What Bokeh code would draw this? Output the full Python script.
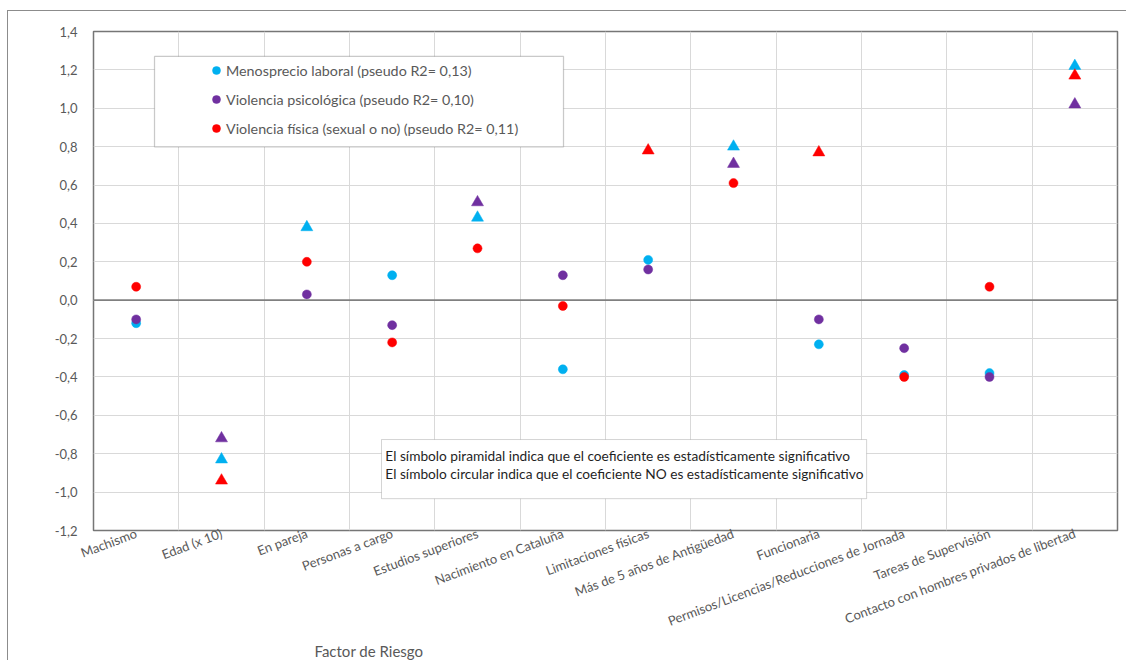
import math
from bokeh.plotting import figure
from bokeh.models import (ColumnDataSource, FactorRange, FixedTicker, CustomJSTickFormatter,
                          Legend, LegendItem, Span, BoxAnnotation, Label, Title)
from bokeh.embed import file_html
from bokeh.resources import INLINE

# ---------------- data ----------------
categories = [
    "Machismo", "Edad (x 10)", "En pareja", "Personas a cargo", "Estudios superiores",
    "Nacimiento en Cataluña", "Limitaciones físicas", "Más de 5 años de Antigüedad",
    "Funcionaria", "Permisos/Licencias/Reducciones de Jornada", "Tareas de Supervisión",
    "Contacto con hombres privados de libertad",
]
y_ticks = [-1.2, -1.0, -0.8, -0.6, -0.4, -0.2, 0.0, 0.2, 0.4, 0.6, 0.8, 1.0, 1.2, 1.4]

series_names = [
    "Menosprecio laboral (pseudo R2= 0,13)",
    "Violencia psicológica (pseudo R2= 0,10)",
    "Violencia física (sexual o no) (pseudo R2= 0,11)",
]
menosprecio = [-0.12, -0.83, 0.38, 0.13, 0.43, -0.36, 0.21, 0.80, -0.23, -0.39, -0.38, 1.22]
psicologica = [-0.10, -0.72, 0.03, -0.13, 0.51, 0.13, 0.16, 0.71, -0.10, -0.25, -0.40, 1.02]
fisica      = [0.07, -0.94, 0.20, -0.22, 0.27, -0.03, 0.78, 0.61, 0.77, -0.40, 0.07, 1.17]

# True = statistically significant (triangle), False = not significant (circle)
sig_menosprecio = [False, True, True, False, True, False, False, True, False, False, False, True]
sig_psicologica = [False, True, False, False, True, False, False, True, False, False, False, True]
sig_fisica      = [False, True, False, False, False, False, True, False, True, False, False, True]

colors = ["#00B0F0", "#7030A0", "#FF0000"]

FONT = "Lato"
GRAY = "#595959"

p = figure(
    x_range=FactorRange(factors=categories), y_range=(-1.2, 1.4),
    width=1119, height=650, output_backend="svg", toolbar_location=None,
    min_border_left=85, min_border_right=10, min_border_top=20, min_border_bottom=131,
    background_fill_color="white", border_fill_color="white",
)
p.styles = {"margin-left": "7px", "margin-top": "10px",
            "border-left": "1px solid #8c8c8c", "border-top": "1px solid #8c8c8c"}

p.outline_line_color = "#767676"
p.outline_line_width = 1.5

# grid
p.ygrid.ticker = FixedTicker(ticks=y_ticks)
p.xgrid.ticker = FixedTicker(ticks=list(range(len(categories) + 1)))
p.grid.grid_line_color = "#d9d9d9"
p.grid.grid_line_width = 1

# y axis
p.yaxis.ticker = FixedTicker(ticks=y_ticks)
p.yaxis.formatter = CustomJSTickFormatter(code="return tick.toFixed(1).replace('.', ',');")
p.yaxis.axis_line_color = None
p.yaxis.major_tick_line_color = None
p.yaxis.minor_tick_line_color = None
p.yaxis.major_tick_out = 0
p.yaxis.minor_tick_out = 0
p.yaxis.major_label_standoff = 16
p.yaxis.major_label_text_font = FONT
p.yaxis.major_label_text_font_size = "13px"
p.yaxis.major_label_text_color = GRAY

# x axis
p.xaxis.axis_line_color = None
p.xaxis.major_tick_line_color = None
p.xaxis.major_tick_out = 0
p.xaxis.minor_tick_out = 0
p.xaxis.major_label_orientation = 0.36
p.xaxis.major_label_standoff = 2
p.xaxis.major_label_text_font = FONT
p.xaxis.major_label_text_font_size = "13px"
p.xaxis.major_label_text_color = GRAY

# x axis title, placed under the axis, shifted to the left as in the original
p.add_layout(Title(text="Factor de Riesgo", align="left", offset=221, standoff=0,
                   text_font=FONT, text_font_size="15px", text_font_style="normal",
                   text_color=GRAY), "below")

# zero axis line
p.add_layout(Span(location=0, dimension="width", line_color="#808080", line_width=1.75))

renderers = []
for vals, sig, col in zip([menosprecio, psicologica, fisica],
                          [sig_menosprecio, sig_psicologica, sig_fisica], colors):
    src = ColumnDataSource(dict(
        x=categories, y=vals,
        marker=["triangle" if s else "circle" for s in sig],
        size=[12 if s else 9 for s in sig],
    ))
    r = p.scatter("x", "y", source=src, marker="marker", size="size",
                  fill_color=col, line_color=col, line_width=0.5)
    renderers.append(r)

# legend frame (drawn as a box, legend itself borderless)
p.add_layout(BoxAnnotation(left=0.715, right=5.508, top=1.270, bottom=0.799,
                           fill_color="white", fill_alpha=1,
                           line_color="#4d4d4d", line_width=1.25))

items = []
for name, r, sig in zip(series_names, renderers, [sig_menosprecio, sig_psicologica, sig_fisica]):
    items.append(LegendItem(label=name, renderers=[r], index=sig.index(False)))

legend = Legend(
    items=items, location=(113, 392), padding=0, spacing=9,
    glyph_width=20, glyph_height=20, label_height=20, label_standoff=0,
    border_line_color=None, margin=0,
    label_text_font=FONT, label_text_font_size="14.3px", label_text_color=GRAY,
    background_fill_alpha=0,
)
p.add_layout(legend, "center")

# note box
p.add_layout(BoxAnnotation(left=3.375, right=9.06, top=-0.726, bottom=-1.034,
                           fill_color="white", fill_alpha=1,
                           line_color="#707070", line_width=1))
note1 = "El símbolo piramidal indica que el coeficiente es estadísticamente significativo"
note2 = "El símbolo circular indica que el coeficiente NO es estadísticamente significativo"
for txt, yy in [(note1, -0.808), (note2, -0.905)]:
    p.add_layout(Label(x=3.42, y=yy, text=txt, text_font=FONT, text_font_size="13.7px",
                       text_color="#1f1f1f", text_baseline="middle", text_align="left"))

# y axis title
p.add_layout(Label(x=-73, x_units="screen", y=0.42, text="Coeficiente", angle=math.pi / 2,
                   text_align="center", text_baseline="middle", text_font=FONT,
                   text_font_size="15px", text_color=GRAY))

open("out.html", "w").write(file_html(p, INLINE))
